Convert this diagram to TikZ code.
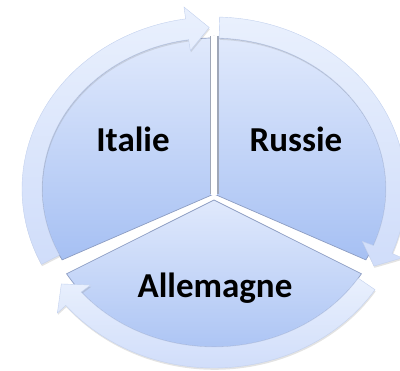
\documentclass[tikz,border=0pt]{standalone}
\usepackage{fontspec}
\setmainfont{Carlito}
\usetikzlibrary{calc,shadows}
\definecolor{pietop}{HTML}{E0E9FC}
\definecolor{piebot}{HTML}{A6C0F3}
\definecolor{secedge}{HTML}{8D9DC2}
\definecolor{ringtop}{HTML}{E9F0FD}
\definecolor{ringbot}{HTML}{D0DDFA}
\definecolor{ringedge}{HTML}{C3D1EE}
\definecolor{gapgray}{HTML}{9FA7B8}
\begin{document}
\begin{tikzpicture}[x=1pt,y=1pt,
  sector/.style={draw=secedge, line width=0.7pt, top color=pietop, bottom color=piebot},
  ringarrow/.style={top color=ringtop, bottom color=ringbot, draw=ringedge, line width=0.4pt,
     drop shadow={opacity=0.22, shadow xshift=0.6pt, shadow yshift=-1.8pt}},
  gapshade/.style={line width=9pt, gapgray},
  gapwhite/.style={line width=6pt, white},
  lbl/.style={font=\fontsize{35}{40}\selectfont\bfseries, text=black, anchor=base, inner sep=0pt}]
\useasboundingbox (0,0) rectangle (400,371);
\coordinate (C) at (214,182);
\coordinate (J) at (214,177);
\coordinate (C2) at (214,175);
\coordinate (J2) at (214,171);
% sectors
\path[sector] (J) -- ($(C)+(90:172pt and 151pt)$)
  arc[start angle=90, end angle=208, x radius=172pt, y radius=151pt] -- cycle;
\path[sector] (J) -- ($(C)+(-28:172pt and 151pt)$)
  arc[start angle=-28, end angle=90, x radius=172pt, y radius=151pt] -- cycle;
\path[sector] (J2) -- ($(C2)+(211:172pt and 151pt)$)
  arc[start angle=211, end angle=329, x radius=172pt, y radius=151pt] -- cycle;
% gap between the two upper sectors
\begin{scope}
  \clip (C) ellipse [x radius=174pt, y radius=153pt];
  \draw[gapshade] (J) -- ($(C)+(90:240pt and 210pt)$);
  \draw[gapwhite] (J) -- ($(C)+(90:240pt and 210pt)$);
  \fill[white] ($(J)+(-3,-1)$) rectangle ($(J)+(3,2)$);
\end{scope}
% ring arrows
\newcommand\ringarr[4]{%
  \path[ringarrow] ($(#4)+(#1:192pt and 172pt)$)
    arc[start angle=#1, end angle=#2, x radius=192pt, y radius=172pt]
    -- ($(#4)+(#2:203pt and 184pt)$)
    -- ($(#4)+(#3:182pt and 161.5pt)$)
    -- ($(#4)+(#2:160pt and 140pt)$)
    -- ($(#4)+(#2:172pt and 151pt)$)
    arc[start angle=#2, end angle=#1, x radius=172pt, y radius=151pt] -- cycle;}
\ringarr{206}{98.5}{91.5}{C}
\ringarr{88.3}{-22}{-28.5}{C}
\ringarr{327}{219.5}{213}{C2}
% labels
\node[lbl] (italie) at (133,219) {Italie};
\node[lbl] (russie) at (296,219) {Russie};
\node[lbl] (allemagne) at (215,73) {Allemagne};
\end{tikzpicture}
\end{document}
